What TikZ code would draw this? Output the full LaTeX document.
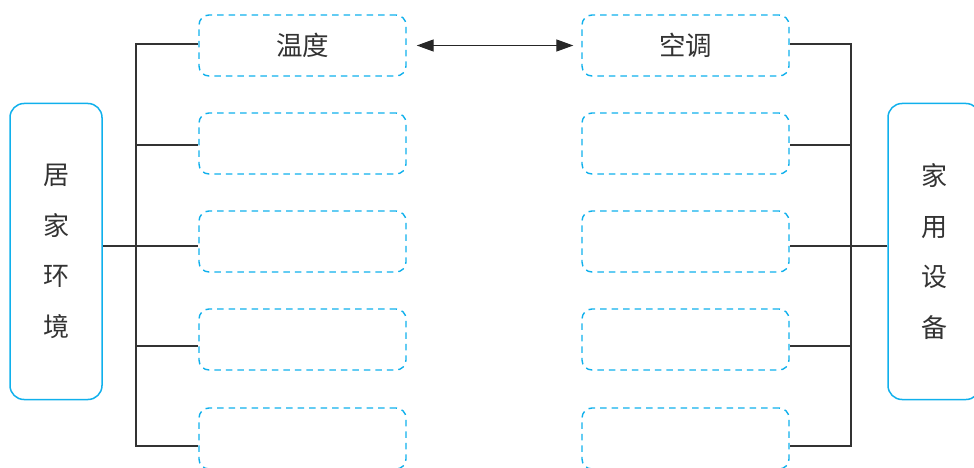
\documentclass[tikz,border=0pt]{standalone}
\usepackage{fontspec}
\newfontfamily\cjk{Noto Sans CJK SC}
\usetikzlibrary{arrows.meta}
\definecolor{cy}{HTML}{10B0EC}
\definecolor{ln}{HTML}{333333}
\begin{document}
\begin{tikzpicture}[x=1pt,y=-1pt,
 dbox/.style={draw=cy, dash pattern=on 6.5pt off 5pt, line width=1.4pt, rounded corners=10pt, minimum width=207pt, minimum height=61pt, inner sep=0pt, font=\cjk\fontsize{26.5}{26.5}\selectfont, text=ln},
 sbox/.style={draw=cy, line width=1.5pt, rounded corners=14pt, minimum width=92pt, minimum height=296pt, inner sep=0pt, align=center, font=\cjk\fontsize{26}{50.5}\selectfont, text=ln},
 conn/.style={draw=ln, line width=1.3pt},
 dblarrow/.style={>={Triangle[length=17pt,width=12pt]}, <->}]
\useasboundingbox (0,0) rectangle (974,468);
\clip (0,0) rectangle (974,468);
% side boxes
\node[sbox] (env) at (56,251.5) {居\\家\\环\\境};
\node[sbox] (dev) at (934,251.5) {家\\用\\设\\备};
% dashed boxes
\node[dbox] (L1) at (302.5,45.5) {温度};
\node[dbox] (L2) at (302.5,143.5) {};
\node[dbox] (L3) at (302.5,241.5) {};
\node[dbox] (L4) at (302.5,339.5) {};
\node[dbox] (L5) at (302.5,438.5) {};
\node[dbox] (R1) at (685.5,45.5) {空调};
\node[dbox] (R2) at (685.5,143.5) {};
\node[dbox] (R3) at (685.5,241.5) {};
\node[dbox] (R4) at (685.5,339.5) {};
\node[dbox] (R5) at (685.5,438.5) {};
% spine coordinates
\coordinate (sl1) at (136,44);
\coordinate (sl2) at (136,145);
\coordinate (sl3) at (136,246);
\coordinate (sl4) at (136,346);
\coordinate (sl5) at (136,446);
\coordinate (sr1) at (851,44);
\coordinate (sr2) at (851,145);
\coordinate (sr3) at (851,246);
\coordinate (sr4) at (851,346);
\coordinate (sr5) at (851,446);
% left tree
\draw[conn] (L1.west |- sl1) -- (sl1) -- (sl5) -- (L5.west |- sl5);
\draw[conn] (sl2) -- (L2.west |- sl2);
\draw[conn] (sl3) -- (L3.west |- sl3);
\draw[conn] (sl4) -- (L4.west |- sl4);
\draw[conn] (env.east |- sl3) -- (sl3);
% right tree
\draw[conn] (R1.east |- sr1) -- (sr1) -- (sr5) -- (R5.east |- sr5);
\draw[conn] (sr2) -- (R2.east |- sr2);
\draw[conn] (sr3) -- (R3.east |- sr3);
\draw[conn] (sr4) -- (R4.east |- sr4);
\draw[conn] (dev.west |- sr3) -- (sr3);
% arrow
\draw[conn, draw=black!85, fill=black!85, dblarrow, shorten <=10pt, shorten >=8pt] (L1.east) -- (R1.west);
\end{tikzpicture}
\end{document}
